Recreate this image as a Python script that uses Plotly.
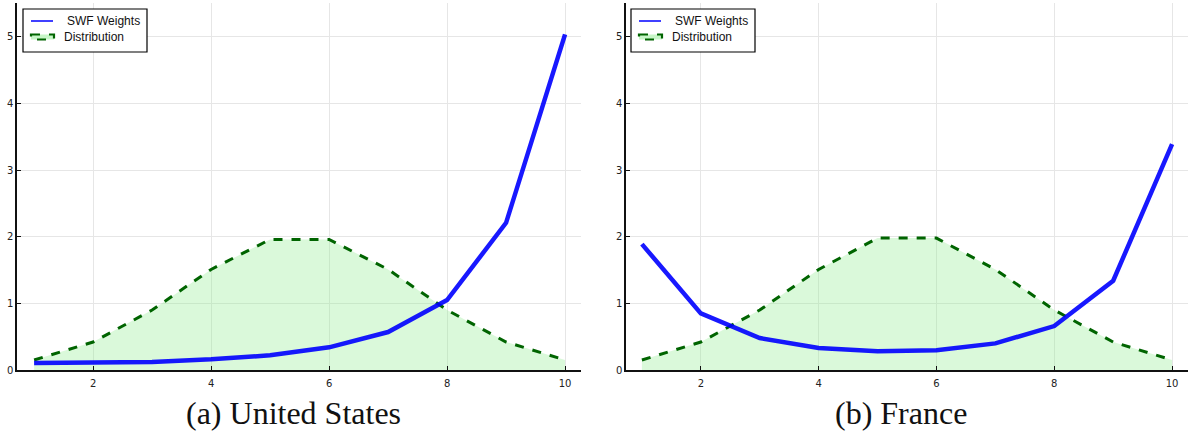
import plotly.graph_objects as go

deciles = [1, 2, 3, 4, 5, 6, 7, 8, 9, 10]
us_swf = [0.105, 0.11, 0.12, 0.16, 0.22, 0.34, 0.57, 1.05, 2.21, 5.04]
us_dist = [0.15, 0.42, 0.90, 1.51, 1.96, 1.96, 1.51, 0.90, 0.42, 0.15]
fr_swf = [1.89, 0.85, 0.48, 0.33, 0.28, 0.295, 0.40, 0.66, 1.34, 3.39]
fr_dist = [0.15, 0.42, 0.90, 1.51, 1.98, 1.98, 1.51, 0.90, 0.42, 0.15]
x_ticks = [2, 4, 6, 8, 10]
y_ticks = [0, 1, 2, 3, 4, 5]
titles = ["(a) United States", "(b) France"]
legend_labels = ["SWF Weights", "Distribution"]

BLUE = "#0000ff"
GREEN = "#006400"
FILL = "rgba(144,238,144,0.33)"

fig = go.Figure()
panels = [(us_swf, us_dist, "x", "y"), (fr_swf, fr_dist, "x2", "y2")]
for swf, dist, xa, ya in panels:
    fig.add_trace(go.Scatter(x=deciles, y=dist, mode="lines", fill="tozeroy",
                             fillcolor=FILL, line=dict(width=0), showlegend=False,
                             hoverinfo="skip", xaxis=xa, yaxis=ya))
    fig.add_trace(go.Scatter(x=deciles, y=dist, mode="lines", name=legend_labels[1],
                             line=dict(color=GREEN, width=3, dash="dash"),
                             showlegend=False, xaxis=xa, yaxis=ya))
    fig.add_trace(go.Scatter(x=deciles, y=swf, mode="lines", name=legend_labels[0],
                             line=dict(color=BLUE, width=4.5), opacity=0.9,
                             showlegend=False, xaxis=xa, yaxis=ya))

W, H = 1192, 432
ml, mr, mt, mb = 17, 4, 3, 62
pw = W - ml - mr
ph = H - mt - mb


def px(x):
    return (x - ml) / pw


def py(y):
    return 1 - (y - mt) / ph


axis_common = dict(showgrid=True, gridcolor="#e6e6e6", gridwidth=1,
                   showline=True, linecolor="#111", linewidth=1.5,
                   ticks="inside", ticklen=4, tickcolor="#111",
                   tickfont=dict(family="DejaVu Sans", size=10, color="#222"),
                   zeroline=False)

d1 = [0, px(581)]
d2 = [px(626), 1]
fig.update_layout(
    width=W, height=H,
    margin=dict(l=ml, r=mr, t=mt, b=mb),
    plot_bgcolor="white", paper_bgcolor="white",
    showlegend=False,
    xaxis=dict(domain=d1, range=[0.71, 10.27], tickvals=x_ticks, anchor="y",
               ticklabelstandoff=3, **axis_common),
    yaxis=dict(range=[0, 5.51], tickvals=y_ticks, anchor="x", **axis_common),
    xaxis2=dict(domain=d2, range=[0.73, 10.27], tickvals=x_ticks, anchor="y2",
                ticklabelstandoff=3, **axis_common),
    yaxis2=dict(range=[0, 5.51], tickvals=y_ticks, anchor="x2", **axis_common),
)

# manual legends (box, symbols, labels) in each panel
for x0 in [23, 631]:
    fig.add_shape(type="rect", xref="paper", yref="paper",
                  x0=px(x0), x1=px(x0 + 124), y0=py(9), y1=py(52),
                  line=dict(color="black", width=1.2), fillcolor="white", layer="above")
    fig.add_shape(type="line", xref="paper", yref="paper",
                  x0=px(x0 + 8), x1=px(x0 + 30), y0=py(21), y1=py(21),
                  line=dict(color=BLUE, width=1.5), layer="above")
    fig.add_shape(type="rect", xref="paper", yref="paper",
                  x0=px(x0 + 8), x1=px(x0 + 31), y0=py(34.5), y1=py(39.5),
                  line=dict(color=GREEN, width=2.2, dash="dash"),
                  fillcolor="rgba(144,238,144,0.5)", layer="above")
    fig.add_annotation(text=legend_labels[0], x=px(x0 + 42), y=py(21), xref="paper", yref="paper",
                       xanchor="left", yanchor="middle", showarrow=False,
                       font=dict(family="Liberation Sans", size=12, color="#111"))
    fig.add_annotation(text=legend_labels[1], x=px(x0 + 39), y=py(37), xref="paper", yref="paper",
                       xanchor="left", yanchor="middle", showarrow=False,
                       font=dict(family="Liberation Sans", size=12, color="#111"))

for t, cx in zip(titles, [293, 901]):
    fig.add_annotation(text=t, x=px(cx), y=py(413), xref="paper", yref="paper",
                       xanchor="center", yanchor="middle", showarrow=False,
                       font=dict(family="Liberation Serif", size=32, color="#111"))

fig.write_html("out.html")
